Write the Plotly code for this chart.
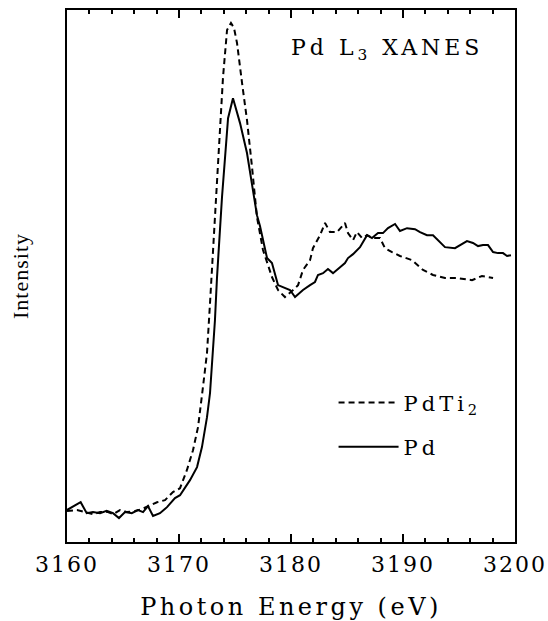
import plotly.graph_objects as go

# Pd reference (solid)
pd_energy = [3160.00, 3161.22, 3161.76, 3162.32, 3162.95, 3163.54, 3164.11, 3164.64, 3165.18, 3165.78,
             3166.34, 3166.79, 3167.23, 3167.68, 3168.30, 3168.93, 3169.64, 3170.09, 3170.98, 3171.61,
             3172.05, 3172.50, 3172.77, 3173.04, 3173.21, 3173.39, 3173.84, 3174.38, 3174.82, 3175.45,
             3176.07, 3176.96, 3177.23, 3177.86, 3178.30, 3178.84, 3179.91, 3180.36, 3181.07, 3181.70,
             3182.14, 3182.41, 3182.86, 3183.30, 3183.75, 3184.38, 3184.82, 3185.09, 3185.54, 3186.16,
             3186.61, 3186.79, 3187.23, 3187.50, 3187.77, 3188.21, 3188.66, 3189.29, 3189.73, 3190.36,
             3191.07, 3191.52, 3192.14, 3192.68, 3193.13, 3193.75, 3194.64, 3195.09, 3195.71, 3196.25,
             3196.70, 3197.14, 3197.59, 3198.04, 3198.48, 3198.93, 3199.29, 3199.64]
pd_intensity = [0.008, 0.038, -0.004, 0.000, -0.004, 0.005, -0.004, -0.023, 0.000, -0.004,
                0.008, 0.000, 0.023, -0.015, -0.004, 0.019, 0.054, 0.065, 0.123, 0.173,
                0.250, 0.365, 0.458, 0.612, 0.738, 0.900, 1.212, 1.515, 1.592, 1.496,
                1.381, 1.142, 1.100, 0.977, 0.958, 0.873, 0.854, 0.827, 0.854, 0.873,
                0.885, 0.912, 0.919, 0.935, 0.919, 0.942, 0.958, 0.977, 0.992, 1.019,
                1.054, 1.065, 1.054, 1.065, 1.073, 1.073, 1.092, 1.108, 1.081, 1.092,
                1.088, 1.077, 1.065, 1.065, 1.046, 1.019, 1.015, 1.027, 1.042, 1.035,
                1.023, 1.027, 1.027, 1.000, 0.996, 0.996, 0.985, 0.988]

# PdTi2 (dashed)
pdti2_energy = [3160.00, 3160.89, 3161.61, 3162.32, 3162.95, 3163.66, 3164.11, 3164.73, 3165.36, 3166.07,
                3166.70, 3167.41, 3168.04, 3168.75, 3169.46, 3170.09, 3170.71, 3171.25, 3171.70, 3172.14,
                3172.50, 3172.77, 3173.21, 3173.66, 3173.93, 3174.29, 3174.64, 3174.91, 3175.18, 3175.63,
                3176.07, 3176.52, 3176.96, 3177.50, 3177.86, 3178.30, 3178.84, 3179.46, 3180.18, 3180.63,
                3181.07, 3181.70, 3181.96, 3182.59, 3183.04, 3183.48, 3184.11, 3184.82, 3185.09, 3185.54,
                3185.89, 3186.34, 3186.79, 3187.32, 3187.95, 3188.39, 3189.02, 3189.73, 3190.80, 3191.79,
                3192.68, 3193.75, 3194.82, 3196.16, 3197.05, 3198.04]
pdti2_intensity = [0.004, 0.008, 0.000, -0.008, 0.000, 0.000, -0.008, 0.008, 0.000, 0.004,
                   0.012, 0.027, 0.038, 0.046, 0.077, 0.092, 0.162, 0.238, 0.327, 0.481,
                   0.612, 0.804, 1.135, 1.508, 1.673, 1.854, 1.881, 1.862, 1.804, 1.650,
                   1.508, 1.327, 1.135, 1.008, 0.962, 0.904, 0.854, 0.827, 0.854, 0.873,
                   0.931, 0.969, 1.015, 1.065, 1.112, 1.077, 1.077, 1.112, 1.073, 1.046,
                   1.077, 1.054, 1.065, 1.054, 1.054, 1.015, 1.000, 0.985, 0.969, 0.931,
                   0.912, 0.900, 0.900, 0.892, 0.908, 0.900]

x_ticks = [3160, 3170, 3180, 3190, 3200]
x_range = [3160, 3200]
y_range = [-0.115, 1.931]

FONT = "DejaVu Serif"

fig = go.Figure()
fig.add_trace(go.Scatter(x=pdti2_energy, y=pdti2_intensity, mode="lines", name="PdTi<sub>2</sub>",
                         legendgroup="a",
                         line=dict(color="black", width=2, dash="6px,4px")))
fig.add_trace(go.Scatter(x=pd_energy, y=pd_intensity, mode="lines", name="Pd",
                         legendgroup="b",
                         line=dict(color="black", width=2)))

fig.update_layout(
    width=548, height=621,
    margin=dict(l=67, r=33, t=10, b=79, autoexpand=False),
    paper_bgcolor="white", plot_bgcolor="white",
    font=dict(family=FONT, color="black"),
    showlegend=True,
    legend=dict(x=0.595, y=0.30, xanchor="left", yanchor="top",
                font=dict(family=FONT, size=21, color="black"),
                bgcolor="rgba(0,0,0,0)", tracegroupgap=14, itemwidth=60),
    annotations=[dict(text="Pd L<sub>3</sub> XANES", xref="paper", yref="paper",
                      x=0.714, y=0.925, xanchor="center", yanchor="middle", showarrow=False,
                      font=dict(family=FONT, size=22, color="black"))],
)
fig.update_xaxes(range=x_range, tickvals=x_ticks, ticks="inside", ticklen=8, tickwidth=2,
                 tickcolor="black", showline=True, linecolor="black", linewidth=2, mirror="ticks",
                 showgrid=False, zeroline=False, automargin=False,
                 minor=dict(dtick=2, ticks="inside", ticklen=4, tickwidth=1.5, tickcolor="black", showgrid=False),
                 tickfont=dict(family=FONT, size=22, color="black"), ticklabelstandoff=2,
                 title=dict(text="Photon Energy (eV)", font=dict(family=FONT, size=24, color="black"), standoff=22))
fig.update_yaxes(range=y_range, showticklabels=False, ticks="", showline=True, linecolor="black",
                 linewidth=2, mirror=True, showgrid=False, zeroline=False, automargin=False,
                 title=dict(text="Intensity", font=dict(family="Liberation Serif", size=22, color="black"), standoff=30))

css = ("html,body{margin:0;padding:0;overflow:hidden}"
       ".xtick text{letter-spacing:2px}"
       ".g-xtitle text{letter-spacing:3.5px}"
       ".annotation-text{letter-spacing:4px}"
       ".legendtext{letter-spacing:4px}"
       ".legend .scrollbox,.legend{clip-path:none!important;overflow:visible!important}"
       ".g-ytitle text{letter-spacing:1px}")
post = ("var s=document.createElement('style');s.textContent='" + css + "';"
        "document.head.appendChild(s);"
        "var gd=document.getElementById('{plot_id}');"
        "Plotly.newPlot(gd, gd.data, gd.layout, {displayModeBar:false});")

fig.write_html("out.html", post_script=post, config={"displayModeBar": False})
